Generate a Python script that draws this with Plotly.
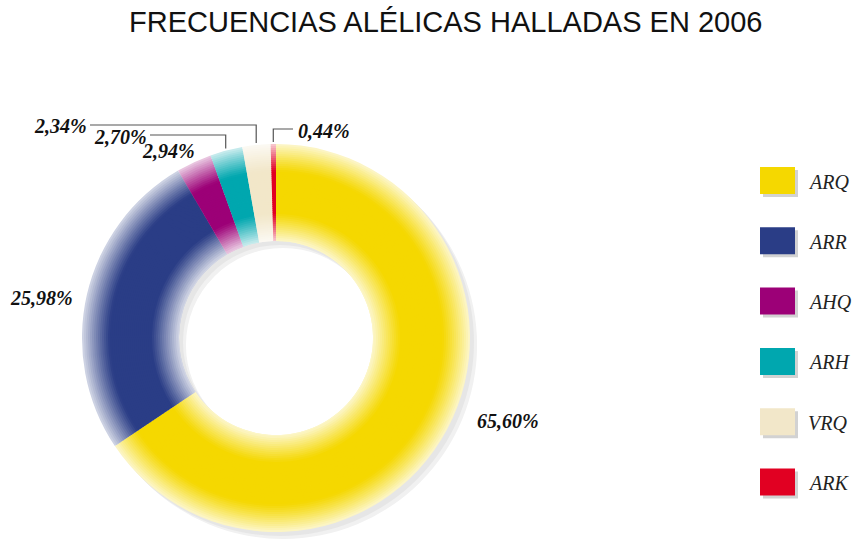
import math
import plotly.graph_objects as go

# ---- data ----
categories = ["ARQ", "ARR", "AHQ", "ARH", "VRQ", "ARK"]
values = [65.60, 25.98, 2.94, 2.70, 2.34, 0.44]
colors = ["#F5D800", "#2A3D86", "#9C0077", "#00A7AF", "#F2E7C9", "#E10022"]
title_text = "FRECUENCIAS ALÉLICAS HALLADAS EN 2006"

# ---- layout constants (pixels) ----
W, H = 853, 539
CX, CY = 276, 338          # donut centre
R_OUT, R_IN = 194, 97      # outer / inner radius
FADE = 28                  # width of the soft edge bands
STEP = 2                   # ring thickness used for the gradient

def px_x(x):
    return x / W

def px_y(y):
    return 1 - y / H

def hex_rgb(h):
    h = h.lstrip("#")
    return tuple(int(h[i:i + 2], 16) for i in (0, 2, 4))

def blend(h, t):
    r, g, b = hex_rgb(h)
    return "rgb(%d,%d,%d)" % (r + (255 - r) * t, g + (255 - g) * t, b + (255 - b) * t)

def domain(cx, cy, r):
    return dict(x=[px_x(cx - r), px_x(cx + r)], y=[px_y(cy + r), px_y(cy - r)])

fig = go.Figure()

# drop shadow
for off, col in [(7, "#f1f1f1"), (4, "#e6e6e6")]:
    fig.add_trace(go.Pie(
        values=[1], labels=["s"], marker=dict(colors=[col], line=dict(width=0)),
        hole=R_IN / R_OUT, domain=domain(CX + off, CY + off, R_OUT),
        textinfo="none", hoverinfo="skip", sort=False, showlegend=False))

# gradient rings (outer first)
r_out = R_OUT
while r_out > R_IN:
    r_in = max(R_IN, r_out - STEP - 1)
    mid = (r_out + max(R_IN, r_out - STEP)) / 2
    t = 0.0
    if mid > R_OUT - FADE:
        t = 0.80 * ((mid - (R_OUT - FADE)) / FADE) ** 1.1
    elif mid < R_IN + FADE:
        t = 0.80 * (((R_IN + FADE) - mid) / FADE) ** 1.1
    fig.add_trace(go.Pie(
        labels=categories, values=values,
        marker=dict(colors=[blend(c, t) for c in colors], line=dict(width=0)),
        hole=r_in / r_out, domain=domain(CX, CY, r_out),
        direction="clockwise", rotation=0, sort=False,
        textinfo="none", hovertemplate="%{label}: %{value}%<extra></extra>",
        showlegend=False))
    r_out -= STEP

# ---- percentage labels ----
label_pos = [(508, 421), (41, 298), (168, 151), (120, 137), (60, 126), (324, 131)]
total = sum(values)
annotations = []
for v, (lx, ly) in zip(values, label_pos):
    annotations.append(dict(
        x=px_x(lx), y=px_y(ly), xref="paper", yref="paper", showarrow=False,
        text=("%.2f" % v).replace(".", ",") + "%",
        font=dict(family="Liberation Serif", size=20, color="#111", weight="bold", style="italic"),
        xanchor="center", yanchor="middle"))

# ---- leader lines (anchored at the slice midpoints) ----
cum = 0
mids = []
for v in values:
    mids.append((cum + v / 2) / total * 360)
    cum += v

def anchor(i, extra=2):
    th = math.radians(mids[i])
    return CX + (R_OUT + extra) * math.sin(th), CY - (R_OUT + extra) * math.cos(th)

shapes = []
line_style = dict(color="#555", width=1.2)
# VRQ, ARH: from label going right, then down to slice
for i, (x_start, y_elbow) in [(4, (90, 125)), (3, (150, 135))]:
    ax, ay = anchor(i)
    shapes.append(dict(type="path", xref="paper", yref="paper", line=line_style,
                       path="M %f,%f L %f,%f L %f,%f" % (px_x(x_start), px_y(y_elbow),
                                                        px_x(ax), px_y(y_elbow),
                                                        px_x(ax), px_y(ay))))
# ARK: from slice going up, then right to label
ax, ay = anchor(5)
shapes.append(dict(type="path", xref="paper", yref="paper", line=line_style,
                   path="M %f,%f L %f,%f L %f,%f" % (px_x(ax), px_y(ay),
                                                    px_x(ax), px_y(129),
                                                    px_x(293), px_y(129))))

# ---- custom legend ----
LX0, LX1 = 760, 795
LY0, LSTEP, LH = 167, 60.3, 27
for k, (cat, col) in enumerate(zip(categories, colors)):
    y0 = LY0 + k * LSTEP
    shapes.append(dict(type="rect", xref="paper", yref="paper", line=dict(width=0),
                       fillcolor="#d2d2d2",
                       x0=px_x(LX0 + 3), x1=px_x(LX1 + 3), y0=px_y(y0 + 3), y1=px_y(y0 + LH + 3)))
    shapes.append(dict(type="rect", xref="paper", yref="paper", line=dict(width=0),
                       fillcolor=col,
                       x0=px_x(LX0), x1=px_x(LX1), y0=px_y(y0), y1=px_y(y0 + LH)))
    annotations.append(dict(
        x=px_x(807), y=px_y(y0 + LH / 2 + 1), xref="paper", yref="paper", showarrow=False,
        text=cat, xanchor="left", yanchor="middle", borderpad=0,
        font=dict(family="Liberation Serif", size=20, color="#222", style="italic")))

# ---- title ----
annotations.append(dict(
    x=px_x(445), y=px_y(22), xref="paper", yref="paper", showarrow=False,
    text=title_text, xanchor="center", yanchor="middle",
    font=dict(family="Liberation Sans", size=29, color="#111")))

fig.update_layout(
    width=W, height=H, autosize=False,
    margin=dict(l=0, r=0, t=0, b=0),
    paper_bgcolor="white", plot_bgcolor="white",
    showlegend=False,
    annotations=annotations, shapes=shapes)

fig.write_html("out.html", config={"displayModeBar": False},
               post_script="document.body.style.margin='0px';document.body.style.overflow='hidden';")
